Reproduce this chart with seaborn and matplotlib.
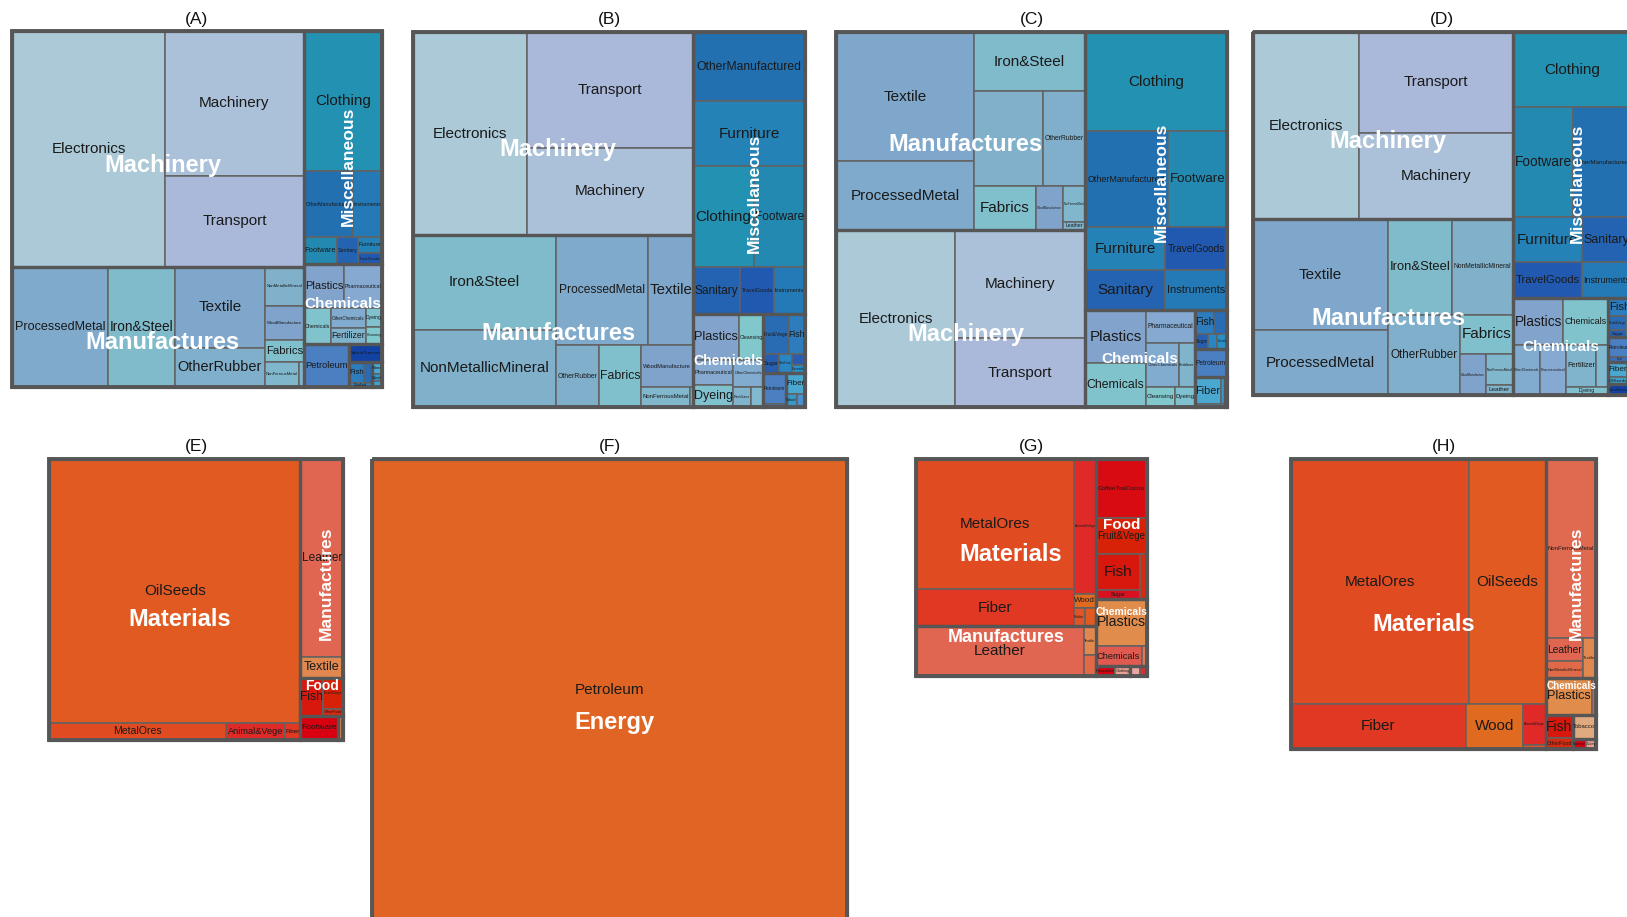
import matplotlib
matplotlib.use("Agg")
import matplotlib.pyplot as plt
from matplotlib.patches import Rectangle
from matplotlib.textpath import TextPath
from matplotlib.font_manager import FontProperties
import numpy as np
import pandas as pd
import seaborn as sns

sns.set_theme(style="white")
FONT = "Liberation Sans"
plt.rcParams["font.family"] = [FONT, "DejaVu Sans"]

# ---------------------------------------------------------------------------
# Export values per country: (category, product, value)
# ---------------------------------------------------------------------------
PANEL_A = [
    ("Machinery", "Electronics", 36000), ("Machinery", "Machinery", 20000),
    ("Machinery", "Transport", 12600),
    ("Manufactures", "ProcessedMetal", 11520), ("Manufactures", "Iron&Steel", 8040),
    ("Manufactures", "Textile", 7290), ("Manufactures", "OtherRubber", 3510),
    ("Manufactures", "NonMetallicMineral", 1521), ("Manufactures", "WoodManufacture", 1326),
    ("Manufactures", "Fabrics", 858), ("Manufactures", "NonFerrousMetal", 850),
    ("Manufactures", "Leather", 125),
    ("Miscellaneous", "Clothing", 10920), ("Miscellaneous", "OtherManufactured", 3234),
    ("Miscellaneous", "Instruments", 1914), ("Miscellaneous", "Footware", 891),
    ("Miscellaneous", "Sanitary", 567), ("Miscellaneous", "Furniture", 384),
    ("Miscellaneous", "TravelGoods", 264),
    ("Chemicals", "Plastics", 1760), ("Chemicals", "Pharmaceutical", 1672),
    ("Chemicals", "Chemicals", 972), ("Chemicals", "OtherChemicals", 700),
    ("Chemicals", "Fertilizer", 560), ("Chemicals", "Dyeing", 300),
    ("Chemicals", "Cleansing", 276),
    ("Energy", "Petroleum", 1935),
    ("Special", "SpecialTransact", 600),
    ("Food", "Fish", 300), ("Food", "Fruit&Vege", 160), ("Food", "OtherFood", 100),
    ("Materials", "Fiber", 120), ("Materials", "Wood", 80), ("Materials", "OilSeeds", 59),
]

PANEL_B = [
    ("Machinery", "Electronics", 23142), ("Machinery", "Transport", 19256),
    ("Machinery", "Machinery", 14442),
    ("Manufactures", "Iron&Steel", 13585), ("Manufactures", "NonMetallicMineral", 11011),
    ("Manufactures", "ProcessedMetal", 10120), ("Manufactures", "Textile", 4950),
    ("Manufactures", "OtherRubber", 2666), ("Manufactures", "Fabrics", 2604),
    ("Manufactures", "WoodManufacture", 2184), ("Manufactures", "NonFerrousMetal", 980),
    ("Manufactures", "Leather", 60),
    ("Miscellaneous", "OtherManufactured", 7770), ("Miscellaneous", "Furniture", 7215),
    ("Miscellaneous", "Clothing", 6120), ("Miscellaneous", "Footware", 5202),
    ("Miscellaneous", "Sanitary", 2209), ("Miscellaneous", "TravelGoods", 1598),
    ("Miscellaneous", "Instruments", 1457),
    ("Chemicals", "Plastics", 2100), ("Chemicals", "Cleansing", 1100),
    ("Chemicals", "Pharmaceutical", 1000), ("Chemicals", "Dyeing", 900),
    ("Chemicals", "OtherChemicals", 800), ("Chemicals", "Fertilizer", 350),
    ("Chemicals", "Explosives", 250),
    ("Food", "Fruit&Vege", 1000), ("Food", "Fish", 650), ("Food", "Sugar", 300),
    ("Food", "OtherFood", 250), ("Food", "CoffeeTeaCocoa", 150), ("Food", "Cereals", 100),
    ("Energy", "Petroleum", 700), ("Energy", "Coal", 59),
    ("Materials", "Fiber", 400), ("Materials", "Wood", 150), ("Materials", "MetalOres", 110),
]

PANEL_C = [
    ("Manufactures", "Textile", 17802), ("Manufactures", "ProcessedMetal", 9522),
    ("Manufactures", "Iron&Steel", 6600), ("Manufactures", "NonMetallicMineral", 6500),
    ("Manufactures", "OtherRubber", 3990), ("Manufactures", "Fabrics", 2728),
    ("Manufactures", "WoodManufacture", 1200), ("Manufactures", "NonFerrousMetal", 805),
    ("Manufactures", "Leather", 184),
    ("Machinery", "Electronics", 21063), ("Machinery", "Machinery", 14040),
    ("Machinery", "Transport", 8970),
    ("Miscellaneous", "Clothing", 14058), ("Miscellaneous", "OtherManufactured", 7968),
    ("Miscellaneous", "Footware", 5664), ("Miscellaneous", "Furniture", 3440),
    ("Miscellaneous", "Sanitary", 3200), ("Miscellaneous", "TravelGoods", 2666),
    ("Miscellaneous", "Instruments", 2480),
    ("Chemicals", "Plastics", 3233), ("Chemicals", "Chemicals", 2684),
    ("Chemicals", "Pharmaceutical", 1617), ("Chemicals", "OtherChemicals", 1408),
    ("Chemicals", "Fertilizer", 704), ("Chemicals", "Cleansing", 580),
    ("Chemicals", "Dyeing", 400),
    ("Food", "Fish", 450), ("Food", "Fruit&Vege", 300), ("Food", "Sugar", 200),
    ("Food", "OtherFood", 150), ("Food", "Cereals", 150),
    ("Energy", "Petroleum", 900),
    ("Materials", "Fiber", 700), ("Materials", "Wood", 100), ("Materials", "MetalOres", 80),
    ("Special", "SpecialTransact", 74),
]

PANEL_D = [
    ("Machinery", "Electronics", 19900), ("Machinery", "Transport", 15500),
    ("Machinery", "Machinery", 13330),
    ("Manufactures", "Textile", 14985), ("Manufactures", "ProcessedMetal", 8775),
    ("Manufactures", "Iron&Steel", 6110), ("Manufactures", "NonMetallicMineral", 5850),
    ("Manufactures", "OtherRubber", 5800), ("Manufactures", "Fabrics", 2106),
    ("Manufactures", "WoodManufacture", 1040), ("Manufactures", "NonFerrousMetal", 840),
    ("Manufactures", "Leather", 280),
    ("Miscellaneous", "Clothing", 8850), ("Miscellaneous", "Footware", 6600),
    ("Miscellaneous", "OtherManufactured", 6380), ("Miscellaneous", "Furniture", 3105),
    ("Miscellaneous", "TravelGoods", 2484), ("Miscellaneous", "Sanitary", 2205),
    ("Miscellaneous", "Instruments", 1764),
    ("Chemicals", "Plastics", 2352), ("Chemicals", "Chemicals", 2115),
    ("Chemicals", "OtherChemicals", 1344), ("Chemicals", "Pharmaceutical", 1300),
    ("Chemicals", "Fertilizer", 1250), ("Chemicals", "Explosives", 500),
    ("Chemicals", "Dyeing", 350),
    ("Food", "Fish", 420), ("Food", "Fruit&Vege", 250), ("Food", "Sugar", 130),
    ("Food", "OtherFood", 100),
    ("Energy", "Petroleum", 460), ("Energy", "Coal", 100),
    ("Materials", "Fiber", 300), ("Materials", "OilSeeds", 140), ("Materials", "Wood", 80),
    ("Special", "SpecialTransact", 250),
]

PANEL_E = [
    ("Materials", "OilSeeds", 66264), ("Materials", "MetalOres", 3009),
    ("Materials", "Animal&Vege", 1003), ("Materials", "Fiber", 255),
    ("Manufactures", "Leather", 8428), ("Manufactures", "Textile", 860),
    ("Food", "Fish", 880), ("Food", "Fruit&Vege", 610), ("Food", "OtherFood", 144),
    ("Miscellaneous", "Footware", 891),
    ("Chemicals", "Plastics", 131),
]

PANEL_F = [
    ("Energy", "Petroleum", 217000),
]

PANEL_G = [
    ("Materials", "MetalOres", 20410), ("Materials", "Fiber", 5809),
    ("Materials", "Animal&Vege", 2961), ("Materials", "Wood", 315),
    ("Materials", "Rubber", 206), ("Materials", "OilSeeds", 192),
    ("Manufactures", "Leather", 8300), ("Manufactures", "Textile", 350),
    ("Manufactures", "NonMetallicMineral", 250),
    ("Food", "CoffeeTeaCocoa", 3016), ("Food", "Fruit&Vege", 1820), ("Food", "Fish", 1584),
    ("Food", "Sugar", 400), ("Food", "OtherFood", 300),
    ("Chemicals", "Plastics", 2444), ("Chemicals", "Chemicals", 884),
    ("Chemicals", "Fertilizer", 104),
    ("Miscellaneous", "Footware", 200), ("Miscellaneous", "Clothing", 150),
    ("Machinery", "Electronics", 100), ("Machinery", "Transport", 70),
]

PANEL_H = [
    ("Materials", "MetalOres", 43610), ("Materials", "OilSeeds", 18865),
    ("Materials", "Fiber", 7875), ("Materials", "Wood", 2565),
    ("Materials", "Animal&Vege", 943), ("Materials", "Rubber", 92),
    ("Manufactures", "NonFerrousMetal", 8900), ("Manufactures", "Leather", 875),
    ("Manufactures", "NonMetallicMineral", 600), ("Manufactures", "Textile", 525),
    ("Chemicals", "Plastics", 1700), ("Chemicals", "Chemicals", 150),
    ("Food", "Fish", 620), ("Food", "OtherFood", 280),
    ("Tobacco", "Tobacco", 560),
    ("Miscellaneous", "Footware", 140), ("Miscellaneous", "Clothing", 100),
]

PANEL_TITLES = ["(A)", "(B)", "(C)", "(D)", "(E)", "(F)", "(G)", "(H)"]

# Product colours: blue scheme for the first row, warm scheme for the second
BLUE_COLORS = {
    "Electronics": "#abc9d7", "Machinery": "#abc0d9", "Transport": "#aab8d9",
    "ProcessedMetal": "#7faacb", "Iron&Steel": "#80bbcb", "Textile": "#7fa7cb",
    "OtherRubber": "#80afcc", "NonMetallicMineral": "#80b0ca", "WoodManufacture": "#80a3cc",
    "Fabrics": "#80c0cc", "NonFerrousMetal": "#80b7cc", "Leather": "#80b3cc",
    "Clothing": "#2391b1", "OtherManufactured": "#2370b1", "Footware": "#2389b1",
    "Furniture": "#2482b7", "Sanitary": "#2463b1", "TravelGoods": "#2159b0",
    "Instruments": "#247ab6",
    "Plastics": "#82a3cc", "Chemicals": "#80c3cc", "Pharmaceutical": "#85a9d0",
    "OtherChemicals": "#82abd0", "Fertilizer": "#80b3cc", "Dyeing": "#80c1d0",
    "Cleansing": "#80c8cc", "Explosives": "#80b9d0",
    "Petroleum": "#4a7fc2", "Coal": "#3a6cc0", "SpecialTransact": "#1242a4",
    "Fish": "#2c7cbe", "Fruit&Vege": "#2a6cb4", "Sugar": "#285eb0", "OtherFood": "#2a86c2",
    "CoffeeTeaCocoa": "#2a5cb0", "Cereals": "#2890c4",
    "Fiber": "#4aa8d0", "Wood": "#3898c8", "MetalOres": "#4890d0", "OilSeeds": "#40a0c8",
}

WARM_COLORS = {
    "OilSeeds": "#e05a22", "MetalOres": "#e04b22", "Fiber": "#e03822", "Wood": "#e06a20",
    "Animal&Vege": "#e02a28", "Rubber": "#e05528",
    "Leather": "#e06652", "Textile": "#e08850", "NonFerrousMetal": "#e06a50",
    "NonMetallicMineral": "#e06a48",
    "CoffeeTeaCocoa": "#d80a12", "Fruit&Vege": "#d82208", "Fish": "#d8180c",
    "Sugar": "#d81020", "OtherFood": "#d82a10",
    "Plastics": "#e08c4c", "Chemicals": "#e05a50", "Fertilizer": "#e07850",
    "Petroleum": "#e06424", "Tobacco": "#e0aa80",
    "Footware": "#d80010", "Clothing": "#e8a090",
    "Electronics": "#e8a8a0", "Transport": "#d83030",
}

# ---------------------------------------------------------------------------
# Figure geometry (pixels)
# ---------------------------------------------------------------------------
FIG_W, FIG_H, DPI = 1627, 917, 100
PX_PER_PT = DPI / 72.0
PANEL_BOXES = [
    (12, 31, 382, 387), (413, 32, 805, 407), (836, 32, 1227, 407), (1253, 32, 1631, 395),
    (49, 459, 343, 740), (372, 459, 847, 922), (916, 459, 1147, 676), (1291, 459, 1596, 749),
]
TITLE_Y = [19.5, 19.5, 19.5, 19.5, 447, 447, 447, 447]

LEAF_EDGE = "#626262"
GROUP_EDGE = "#565656"
LEAF_MAX_PX = 15.3
GROUP_MAX_PX = 23.6
GROUP_SMALL_PX = 15.3
GROUP_ROT_PX = 17.5
AVOID_MIN_PX = 9.0      # leaf labels smaller than this may be covered by group labels
TEXT_H = 0.75           # label box height as a fraction of the font size

_em_cache = {}


def em_width(text, bold=False):
    key = (text, bold)
    if key not in _em_cache:
        fp = FontProperties(family=FONT, weight="bold" if bold else "normal")
        _em_cache[key] = TextPath((0, 0), text, size=1, prop=fp).get_extents().width
    return _em_cache[key]


def pivot_by_size(values, x, y, w, h):
    """Ordered treemap (pivot-by-size) of values already sorted descending."""
    n = len(values)
    if n == 0:
        return []
    if n == 1:
        return [(x, y, w, h)]
    total = float(sum(values))
    p, rest = values[0], values[1:]
    wide = w >= h
    best_k, best = 0, np.inf
    acc = p
    for k in range(len(rest) + 1):
        if k > 0:
            acc += rest[k - 1]
        if wide:
            cw, ph = w * acc / total, h * p / acc
            ar = max(cw / ph, ph / cw)
        else:
            rh, pw = h * acc / total, w * p / acc
            ar = max(rh / pw, pw / rh)
        if ar < best - 1e-12:
            best, best_k = ar, k
    s = p + sum(rest[:best_k])
    l2, l3 = rest[:best_k], rest[best_k:]
    if wide:
        cw, ph = w * s / total, h * p / s
        out = [(x, y, cw, ph)]
        out += pivot_by_size(l2, x, y + ph, cw, h - ph)
        out += pivot_by_size(l3, x + cw, y, w - cw, h)
    else:
        rh, pw = h * s / total, w * p / s
        out = [(x, y, pw, rh)]
        out += pivot_by_size(l2, x + pw, y, w - pw, rh)
        out += pivot_by_size(l3, x, y + rh, w, h - rh)
    return out


def box_overlap(a, b, pad=1.0):
    return a[0] < b[2] + pad and b[0] < a[2] + pad and a[1] < b[3] + pad and b[1] < a[3] + pad


def overlap_fraction(small, big):
    ix = max(0.0, min(small[2], big[2]) - max(small[0], big[0]))
    iy = max(0.0, min(small[3], big[3]) - max(small[1], big[1]))
    area = (small[2] - small[0]) * (small[3] - small[1])
    return ix * iy / area if area > 0 else 0.0


def draw_panel(fig, title, records, box, ty, palette):
    x0, y0, x1, y1 = box
    W, H = x1 - x0, y1 - y0
    ax = fig.add_axes([x0 / FIG_W, 1 - y1 / FIG_H, W / FIG_W, H / FIG_H])
    ax.set_xlim(0, W)
    ax.set_ylim(H, 0)
    ax.set_axis_off()

    df = pd.DataFrame(records, columns=["group", "leaf", "value"])
    totals = df.groupby("group", sort=False)["value"].sum()
    totals = totals.sort_values(ascending=False, kind="stable")
    grand = totals.sum()
    group_rects = pivot_by_size(totals.tolist(), 0.0, 0.0, W, H)

    leaf_labels = []   # (text artist, box, size)
    for (g, gval), (gx, gy, gw, gh) in zip(totals.items(), group_rects):
        sub = df[df["group"] == g].sort_values("value", ascending=False, kind="stable")
        leaf_rects = pivot_by_size(sub["value"].tolist(), gx, gy, gw, gh)
        for leaf, (lx, ly, lw, lh) in zip(sub["leaf"], leaf_rects):
            ax.add_patch(Rectangle((lx, ly), lw, lh, facecolor=palette[leaf],
                                   edgecolor=LEAF_EDGE, linewidth=1.1, zorder=1))
            ew = em_width(leaf)
            s = min(LEAF_MAX_PX, 0.92 * lw / ew, 0.62 * lh)
            if s >= 2.5:
                cx, cy = lx + lw / 2, ly + lh / 2
                t = ax.text(cx, cy, leaf, ha="center", va="center",
                            fontsize=s / PX_PER_PT, color="#1a1a1a", zorder=4)
                bb = (cx - ew * s / 2, cy - TEXT_H * s / 2, cx + ew * s / 2, cy + TEXT_H * s / 2)
                leaf_labels.append((t, bb, s))
        ax.add_patch(Rectangle((gx, gy), gw, gh, fill=False, edgecolor=GROUP_EDGE,
                               linewidth=2.3, zorder=2, clip_on=False))

    # category labels, nudged off the larger product labels where there is room
    obstacles = [bb for _, bb, s in leaf_labels if s >= AVOID_MIN_PX]
    for (g, gval), (gx, gy, gw, gh) in zip(totals.items(), group_rects):
        frac = gval / grand
        if frac < 0.019:
            continue
        rotate = gh > 1.5 * gw and len(g) >= 8
        ew = em_width(g, bold=True)
        if rotate:
            s = min(GROUP_ROT_PX, 0.95 * gh / ew, 0.42 * gw)
            hx, hy = TEXT_H * s / 2, ew * s / 2
        else:
            cap = GROUP_MAX_PX if frac >= 0.15 else GROUP_SMALL_PX
            s = min(cap, 0.98 * gw / ew, 0.36 * gh)
            hx, hy = ew * s / 2, TEXT_H * s / 2
        shifted = rotate or frac >= 0.2
        cx = gx + gw / 2 + (5.0 if shifted else 0.0)
        cy0 = gy + gh / 2 + (0.07 * gh if shifted else 0.0)
        cy0 = min(cy0, gy + gh - hy - 2)
        span = int(gh)
        candidates = [cy0]
        if shifted:
            # large categories: nearest free spot, trying below first
            for d in range(1, span):
                candidates += [cy0 + d, cy0 - d]
        else:
            # small categories: any free spot above, then below
            candidates += [cy0 - d for d in range(1, span)]
            candidates += [cy0 + d for d in range(1, span)]
        chosen = cy0
        for i, cy in enumerate(candidates):
            if i > 0 and (cy - hy < gy + 1 or cy + hy > gy + gh - 1):
                continue
            lb = (cx - hx, cy - hy, cx + hx, cy + hy)
            if not any(box_overlap(lb, ob) for ob in obstacles):
                chosen = cy
                break
        lb = (cx - hx, chosen - hy, cx + hx, chosen + hy)
        for t, bb, _ in leaf_labels:
            if overlap_fraction(bb, lb) > 0.5:
                t.set_visible(False)
        ax.text(cx, chosen, g, ha="center", va="center",
                rotation=90 if rotate else 0, fontsize=s / PX_PER_PT,
                fontweight="bold", color="white", zorder=5)

    ax.add_patch(Rectangle((0, 0), W, H, fill=False, edgecolor=GROUP_EDGE,
                           linewidth=2.8, zorder=3, clip_on=False))
    fig.text(((x0 + x1) / 2) / FIG_W, 1 - ty / FIG_H, title, ha="center", va="center",
             fontsize=12.5, color="#111111")


fig = plt.figure(figsize=(FIG_W / DPI, FIG_H / DPI), dpi=DPI)
fig.patch.set_facecolor("white")

panel_data = [PANEL_A, PANEL_B, PANEL_C, PANEL_D, PANEL_E, PANEL_F, PANEL_G, PANEL_H]
for i, (title, recs, box, ty) in enumerate(zip(PANEL_TITLES, panel_data, PANEL_BOXES, TITLE_Y)):
    palette = BLUE_COLORS if i < 4 else WARM_COLORS
    draw_panel(fig, title, recs, box, ty, palette)

fig.savefig("out.png", dpi=DPI, facecolor="white")
